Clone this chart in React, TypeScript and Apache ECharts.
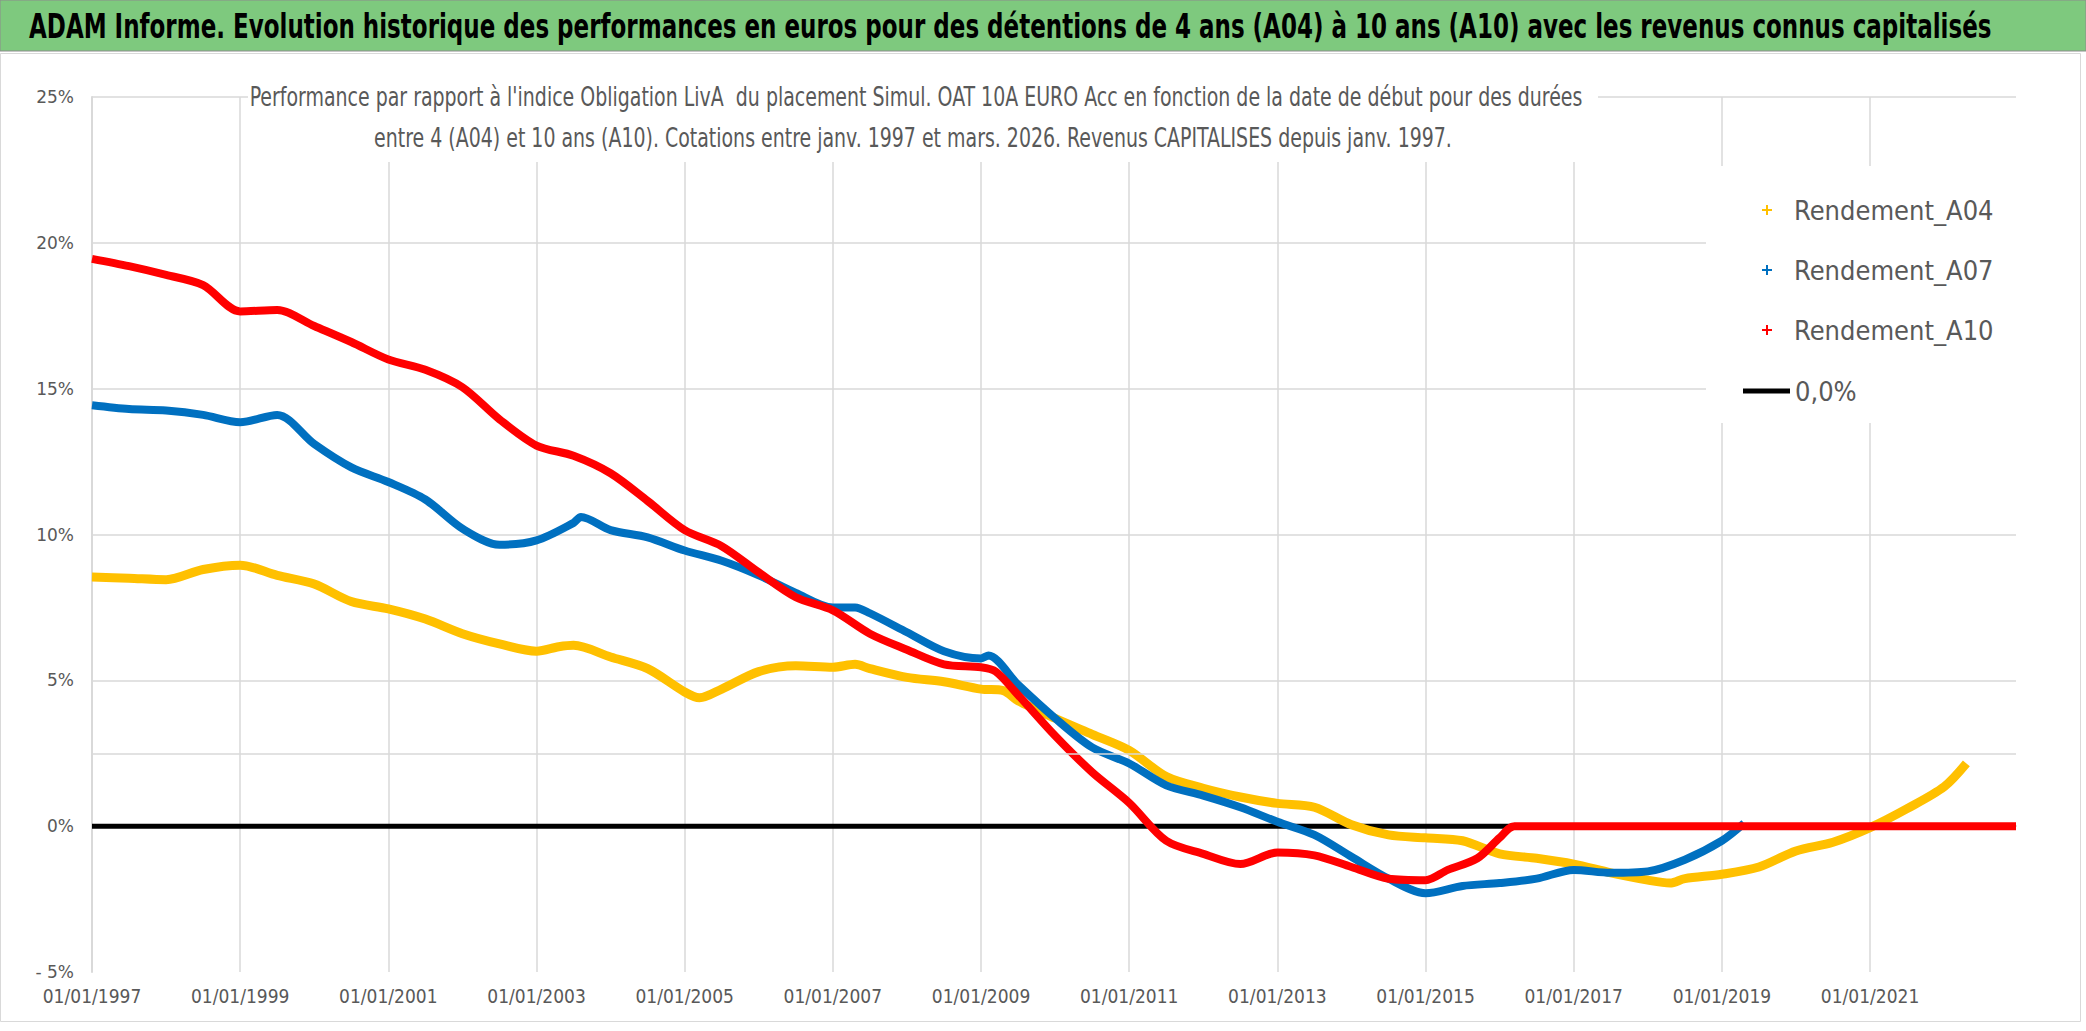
import React, { useEffect, useRef } from "react";
import * as echarts from "echarts";

const MAIN_TITLE =
  "ADAM Informe. Evolution historique des performances en euros pour des détentions de 4 ans (A04) à 10 ans (A10) avec les revenus connus capitalisés";
const SUB_TITLE_1 =
  "Performance par rapport à l'indice Obligation LivA  du placement Simul. OAT 10A EURO Acc en fonction de la date de début pour des durées";
const SUB_TITLE_2 =
  "entre 4 (A04) et 10 ans (A10). Cotations entre janv. 1997 et mars. 2026. Revenus CAPITALISES depuis janv. 1997.";

const SERIES_NAMES = ["Rendement_A04", "Rendement_A07", "Rendement_A10", "0,0%"];
const SERIES_COLORS = ["#FFC000", "#0070C0", "#FF0000", "#000000"];

// x axis (decimal years)
const X_MIN = 1997;
const X_MAX = 2022.97;
const X_STEP = 2;
// y axis (%)
const Y_MIN = -5;
const Y_MAX = 25;
const Y_STEP = 5;
const EXTRA_GRID_Y = [2.5];

const a04Years = [
  1997.0, 1997.5, 1998.0, 1998.5, 1999.0, 1999.5, 2000.0, 2000.5, 2001.0, 2001.5,
  2002.0, 2002.5, 2003.0, 2003.3, 2003.5, 2004.0, 2004.5, 2005.0, 2005.2, 2005.5,
  2006.0, 2006.5, 2007.0, 2007.3, 2007.5, 2008.0, 2008.5, 2009.0, 2009.3, 2009.5,
  2010.0, 2010.5, 2011.0, 2011.5, 2012.0, 2012.5, 2013.0, 2013.5, 2014.0, 2014.5,
  2015.0, 2015.5, 2016.0, 2016.5, 2017.0, 2017.5, 2018.0, 2018.3, 2018.5, 2019.0,
  2019.5, 2020.0, 2020.5, 2021.0, 2021.5, 2022.0, 2022.3,
];
const a04Values = [
  8.54, 8.5, 8.45, 8.8, 8.95, 8.6, 8.3, 7.7, 7.45, 7.1,
  6.6, 6.25, 6.0, 6.15, 6.2, 5.8, 5.4, 4.6, 4.4, 4.7,
  5.3, 5.5, 5.45, 5.55, 5.4, 5.1, 4.95, 4.7, 4.65, 4.3,
  3.7, 3.15, 2.6, 1.7, 1.3, 1.0, 0.78, 0.65, 0.05, -0.3,
  -0.4, -0.5, -0.95, -1.1, -1.3, -1.6, -1.85, -1.95, -1.8, -1.65,
  -1.4, -0.85, -0.55, -0.05, 0.6, 1.35, 2.15,
];

const a07Years = [
  1997.0, 1997.5, 1998.0, 1998.5, 1999.0, 1999.5, 2000.0, 2000.5, 2001.0, 2001.5,
  2002.0, 2002.5, 2003.0, 2003.5, 2003.6, 2004.0, 2004.5, 2005.0, 2005.5, 2006.0,
  2006.5, 2007.0, 2007.3, 2007.5, 2008.0, 2008.5, 2009.0, 2009.1, 2009.5, 2010.0,
  2010.5, 2011.0, 2011.5, 2012.0, 2012.5, 2013.0, 2013.5, 2014.0, 2014.5, 2015.0,
  2015.5, 2016.0, 2016.5, 2017.0, 2017.5, 2018.0, 2018.5, 2019.0, 2019.3,
];
const a07Values = [
  14.43, 14.3, 14.25, 14.1, 13.85, 14.1, 13.1, 12.3, 11.8, 11.2,
  10.2, 9.65, 9.8, 10.4, 10.6, 10.15, 9.9, 9.45, 9.1, 8.6,
  8.0, 7.5, 7.5, 7.3, 6.65, 6.0, 5.75, 5.85, 4.85, 3.7,
  2.7, 2.15, 1.4, 1.05, 0.65, 0.15, -0.3, -1.05, -1.8, -2.3,
  -2.05, -1.95, -1.8, -1.5, -1.6, -1.55, -1.15, -0.5, 0.1,
];

const a10Years = [
  1997.0, 1997.5, 1998.0, 1998.5, 1999.0, 1999.5, 2000.0, 2000.5, 2001.0, 2001.5,
  2002.0, 2002.5, 2003.0, 2003.5, 2004.0, 2004.5, 2005.0, 2005.5, 2006.0, 2006.5,
  2007.0, 2007.5, 2008.0, 2008.5, 2009.0, 2009.2, 2009.5, 2010.0, 2010.5, 2011.0,
  2011.5, 2012.0, 2012.5, 2013.0, 2013.5, 2014.0, 2014.5, 2015.0, 2015.3, 2015.7,
  2016.0, 2016.2, 2022.97,
];
const a10Values = [
  19.45, 19.2, 18.9, 18.55, 17.65, 17.7, 17.15, 16.6, 16.0, 15.65,
  15.05, 13.95, 13.05, 12.7, 12.1, 11.15, 10.15, 9.6, 8.7, 7.85,
  7.4, 6.6, 6.05, 5.55, 5.45, 5.3, 4.5, 3.1, 1.85, 0.8,
  -0.5, -0.95, -1.3, -0.9, -1.0, -1.4, -1.8, -1.85, -1.5, -1.1,
  -0.4, 0.0, 0.0,
];

const zeroYears = [1997.0, 2022.97];
const zeroValues = [0, 0];

const FONT = "'Liberation Sans Narrow', 'DejaVu Sans Condensed', 'Roboto', sans-serif";
const GRAY = "#595959";
const GRID_GRAY = "#d9d9d9";

const zip = (xs: number[], ys: number[]) => xs.map((x, i) => [x, ys[i]]);

const PLUS_ICON = "path://M4,0H6V4H10V6H6V10H4V6H0V4H4Z";

function measure(text: string, font: string): number {
  const c = document.createElement("canvas").getContext("2d");
  if (!c) return text.length * 10;
  c.font = font;
  return c.measureText(text).width;
}

export default function App() {
  const ref = useRef<HTMLDivElement>(null);

  useEffect(() => {
    if (!ref.current) return;
    const chart = echarts.init(ref.current, undefined, { renderer: "svg" });

    const titleFont = `bold 33px ${FONT}`;
    const titleScale = 1963 / measure(MAIN_TITLE, titleFont);
    const subFont = `26px ${FONT}`;
    const subScale = 1333 / measure(SUB_TITLE_1, subFont);

    const lineSeries = (idx: number, data: number[][], width: number, z: number) => ({
      name: SERIES_NAMES[idx],
      type: "line",
      data,
      showSymbol: false,
      symbol: "none",
      smooth: 0.3,
      z,
      lineStyle: { color: SERIES_COLORS[idx], width },
      itemStyle: { color: SERIES_COLORS[idx] },
    });

    const option: any = {
      animation: false,
      backgroundColor: "#ffffff",
      textStyle: { fontFamily: FONT },
      graphic: [
        { type: "rect", z: -10, shape: { x: 0, y: 0, width: 2086, height: 51 }, style: { fill: "#7EC97E", stroke: "#8c8c8c", lineWidth: 1 } },
        { type: "rect", z: -10, shape: { x: 0.5, y: 53.5, width: 2080, height: 968 }, style: { fill: "none", stroke: GRID_GRAY, lineWidth: 1 } },
        {
          type: "text",
          z: 10,
          x: 29,
          y: 27,
          scaleX: titleScale,
          style: {
            text: MAIN_TITLE,
            font: titleFont,
            fill: "#000000",
            align: "left",
            verticalAlign: "middle",
          },
        },
        { type: "rect", z: 3, shape: { x: 248, y: 76, width: 1350, height: 86 }, style: { fill: "#ffffff" } },
        {
          type: "text",
          z: 4,
          x: 916,
          y: 97,
          scaleX: subScale,
          style: { text: SUB_TITLE_1, font: subFont, fill: GRAY, align: "center", verticalAlign: "middle" },
        },
        {
          type: "text",
          z: 4,
          x: 913,
          y: 138,
          scaleX: subScale,
          style: { text: SUB_TITLE_2, font: subFont, fill: GRAY, align: "center", verticalAlign: "middle" },
        },
        { type: "rect", z: 3, shape: { x: 1706, y: 166, width: 310, height: 257 }, style: { fill: "#ffffff" } },
      ],
      legend: [
        {
          data: SERIES_NAMES.slice(0, 3),
          orient: "vertical",
          left: 1757,
          top: 190,
          itemWidth: 10,
          itemHeight: 10,
          itemGap: 30,
          icon: PLUS_ICON,
          z: 5,
          textStyle: { fontFamily: FONT, fontSize: 27, color: GRAY, lineHeight: 30, padding: [0, 0, 0, 17] },
        },
        {
          data: [SERIES_NAMES[3]],
          orient: "vertical",
          left: 1738,
          top: 371,
          itemWidth: 47,
          itemHeight: 5,
          icon: "rect",
          z: 5,
          textStyle: { fontFamily: FONT, fontSize: 27, color: GRAY, lineHeight: 30 },
        },
      ],
      grid: { left: 92, right: 70, top: 97, bottom: 59, containLabel: false },
      xAxis: {
        type: "value",
        min: X_MIN,
        max: X_MAX,
        interval: X_STEP,
        axisLine: { show: true, lineStyle: { color: GRID_GRAY, width: 2 } },
        axisTick: { show: false },
        axisLabel: {
          margin: 14,
          fontFamily: FONT,
          fontSize: 19,
          color: GRAY,
          showMaxLabel: false,
          formatter: (v: number) => (Math.abs(v - Math.round(v)) < 1e-6 ? "01/01/" + Math.round(v) : ""),
        },
        splitLine: { show: true, showMaxLine: false, showMinLine: false, lineStyle: { color: GRID_GRAY, width: 1.5 } },
      },
      yAxis: {
        type: "value",
        min: Y_MIN,
        max: Y_MAX,
        interval: Y_STEP,
        axisLine: { show: true, lineStyle: { color: GRID_GRAY, width: 2 } },
        axisTick: { show: false },
        axisLabel: {
          margin: 18,
          fontFamily: "'DejaVu Sans', sans-serif",
          fontSize: 17,
          color: GRAY,
          formatter: (v: number) => (v < 0 ? "- " + Math.abs(v) + "%" : v + "%"),
        },
        splitLine: { show: true, showMinLine: false, lineStyle: { color: GRID_GRAY, width: 1.5 } },
      },
      series: [
        {
          name: SERIES_NAMES[3],
          type: "line",
          data: zip(zeroYears, zeroValues),
          showSymbol: false,
          symbol: "none",
          z: 1,
          lineStyle: { color: SERIES_COLORS[3], width: 5 },
          itemStyle: { color: SERIES_COLORS[3] },
          markLine: {
            silent: true,
            symbol: "none",
            label: { show: false },
            lineStyle: { color: GRID_GRAY, width: 1.5, type: "solid" },
            data: EXTRA_GRID_Y.map((y) => ({ yAxis: y })),
          },
        },
        lineSeries(0, zip(a04Years, a04Values), 9, 2),
        lineSeries(1, zip(a07Years, a07Values), 8, 2),
        lineSeries(2, zip(a10Years, a10Values), 8, 2),
      ],
    };
    chart.setOption(option);
    return () => chart.dispose();
  }, []);

  return (
    <div
      ref={ref}
      style={{ position: "fixed", left: 0, top: 0, width: "2086px", height: "1031px" }}
    />
  );
}
